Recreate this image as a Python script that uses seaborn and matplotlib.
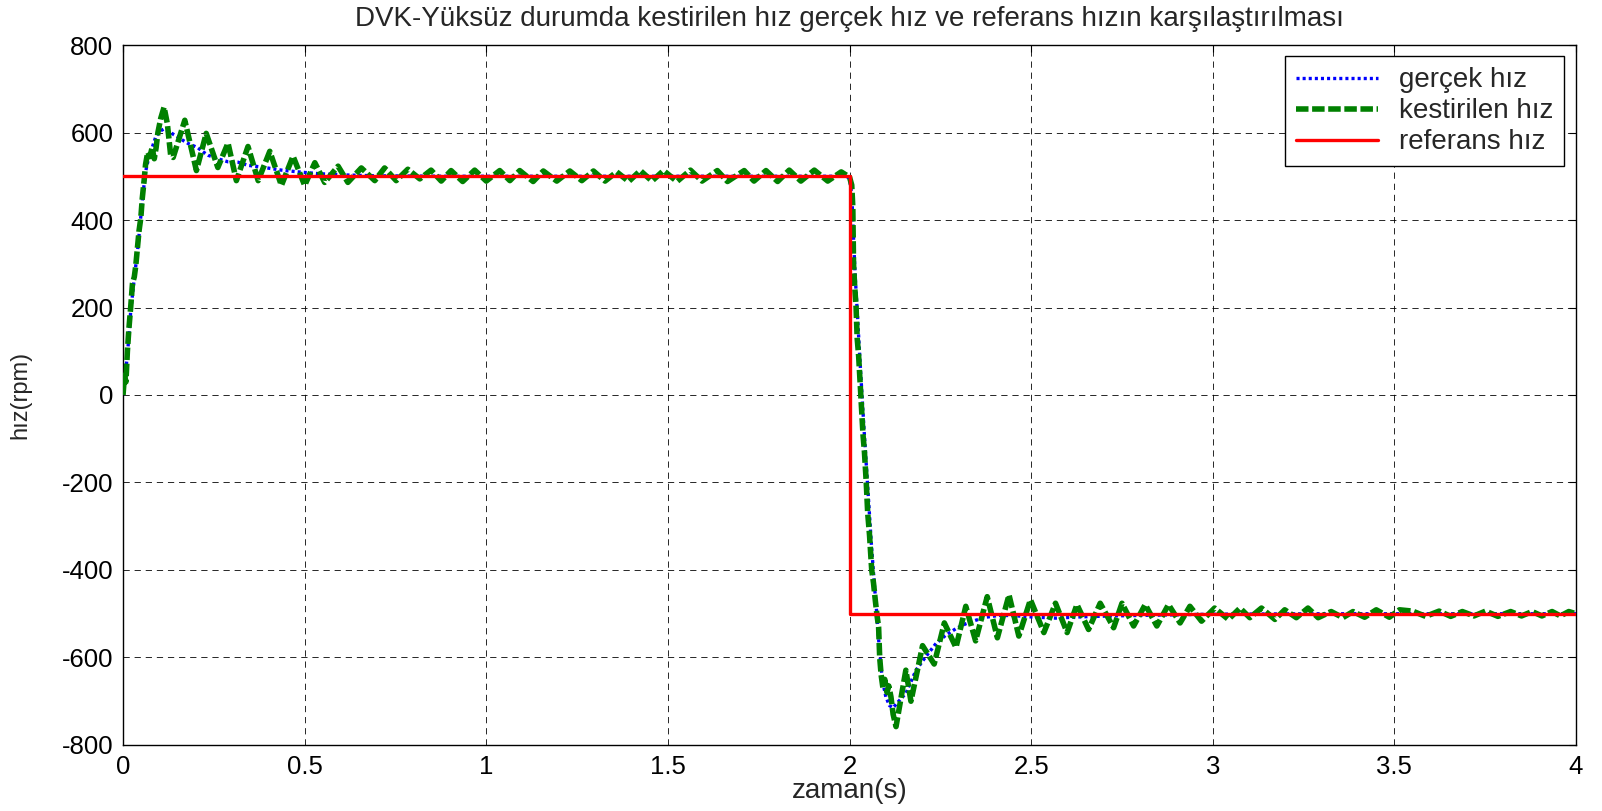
import matplotlib
matplotlib.use("Agg")
import matplotlib.pyplot as plt
import pandas as pd
import seaborn as sns

# ---------------------------------------------------------------- data
# reference speed (rpm): step from +500 to -500 at t = 2 s
t_ref = [0.0, 2.0, 2.0, 4.0]
w_ref = [500, 500, -500, -500]

# measured (actual) rotor speed
t_act = [0.000, 0.005, 0.012, 0.021, 0.030, 0.040, 0.048, 0.055, 0.062, 0.070,
         0.080, 0.090, 0.100, 0.112, 0.124, 0.140, 0.151, 0.165, 0.179, 0.193,
         0.206, 0.220, 0.234, 0.261, 0.289, 0.317, 0.344, 0.381, 0.436, 0.482,
         0.537, 0.610, 0.700, 0.900, 1.200, 1.600, 1.990,
         2.000, 2.006, 2.010, 2.015, 2.022, 2.030, 2.040, 2.050, 2.060, 2.068,
         2.075, 2.082, 2.090, 2.100, 2.110, 2.120, 2.130, 2.155, 2.183, 2.210,
         2.238, 2.265, 2.293, 2.320, 2.347, 2.375, 2.411, 2.448, 2.494, 2.567,
         2.640, 2.722, 2.859, 3.000, 3.300, 4.000]
w_act = [0, 40, 90, 190, 260, 330, 400, 460, 510, 540,
         565, 590, 602, 608, 604, 595, 590, 582, 575, 570,
         565, 556, 548, 540, 533, 532, 525, 521, 514, 510,
         506, 503, 501, 500, 500, 500, 500,
         495, 460, 380, 280, 180, 60, -80, -210, -340, -430,
         -500, -580, -650, -690, -710, -715, -705, -682, -629, -598,
         -568, -549, -534, -523, -515, -508, -504, -504, -507, -510,
         -507, -505, -503, -501, -500, -500]

# estimated speed (observer output)
t_est = [0.000, 0.004, 0.008, 0.012, 0.016, 0.021, 0.026, 0.031, 0.035, 0.039,
         0.044, 0.049, 0.053, 0.058, 0.062, 0.068, 0.074, 0.080, 0.086, 0.091,
         0.096, 0.104, 0.113, 0.122, 0.131, 0.138, 0.170, 0.202, 0.229, 0.261,
         0.289, 0.312, 0.344, 0.372, 0.404, 0.436, 0.468, 0.500, 0.528, 0.555,
         0.592, 0.619, 0.656, 0.693, 0.720, 0.752, 0.784, 0.817, 0.848, 0.876,
         0.903, 0.935, 0.968, 1.000, 1.037, 1.065, 1.092, 1.129, 1.157, 1.194,
         1.230, 1.263, 1.295, 1.327, 1.359, 1.392, 1.424, 1.456, 1.488, 1.525,
         1.562, 1.594, 1.636, 1.664, 1.710, 1.737, 1.770, 1.802, 1.834, 1.866,
         1.903, 1.940, 1.977,
         2.000, 2.006, 2.009, 2.011, 2.014, 2.018, 2.021, 2.025, 2.028, 2.031,
         2.034, 2.037, 2.041, 2.046, 2.050, 2.055, 2.058, 2.061, 2.066, 2.071,
         2.076, 2.080, 2.083, 2.087, 2.092, 2.097, 2.103, 2.108, 2.114, 2.120,
         2.128, 2.136, 2.155, 2.169, 2.201, 2.233, 2.261, 2.293, 2.320, 2.347,
         2.379, 2.407, 2.439, 2.466, 2.498, 2.535, 2.567, 2.599, 2.626, 2.658,
         2.690, 2.727, 2.750, 2.782, 2.814, 2.846, 2.878, 2.910, 2.937, 2.969,
         3.005, 3.043, 3.075, 3.102, 3.134, 3.171, 3.198, 3.230, 3.262, 3.290,
         3.326, 3.358, 3.386, 3.418, 3.450, 3.486, 3.514, 3.550, 3.586, 3.623,
         3.655, 3.687, 3.719, 3.751, 3.785, 3.820, 3.850, 3.879, 3.906, 3.934,
         3.957, 3.980, 4.000]
w_est = [0, 45, 30, 100, 150, 200, 255, 270, 295, 330,
         375, 405, 450, 490, 527, 555, 545, 565, 540, 565,
         600, 633, 658, 620, 549, 543, 628, 513, 598, 520,
         576, 490, 568, 490, 557, 479, 546, 479, 531, 486,
         523, 486, 519, 490, 519, 490, 516, 494, 514, 489,
         513, 488, 514, 489, 513, 490, 513, 488, 512, 489,
         512, 490, 512, 489, 510, 488, 513, 489, 513, 488,
         514, 489, 513, 488, 513, 489, 513, 488, 514, 489,
         514, 489, 510,
         498, 480, 430, 300, 250, 200, 130, 90, 45, 0,
         -45, -90, -130, -200, -270, -320, -360, -400, -430, -470,
         -506, -530, -600, -640, -670, -650, -680, -665, -690, -730,
         -758, -720, -629, -700, -573, -615, -521, -577, -483, -562,
         -461, -555, -457, -551, -468, -543, -476, -543, -479, -536,
         -476, -532, -476, -528, -479, -528, -479, -521, -483, -517,
         -487, -513, -487, -509, -487, -513, -491, -509, -487, -509,
         -495, -509, -495, -508, -491, -508, -491, -494, -506, -494,
         -506, -495, -505, -494, -506, -495, -505, -495, -505, -495,
         -505, -495, -500]

x_ticks = [0, 0.5, 1, 1.5, 2, 2.5, 3, 3.5, 4]
x_tick_labels = ["0", "0.5", "1", "1.5", "2", "2.5", "3", "3.5", "4"]
y_ticks = [-800, -600, -400, -200, 0, 200, 400, 600, 800]
y_tick_labels = ["-800", "-600", "-400", "-200", "0", "200", "400", "600", "800"]

series_names = ["gerçek hız", "kestirilen hız", "referans hız"]

# ---------------------------------------------------------------- style
sns.set_style("white")
plt.rcParams["font.family"] = ["Liberation Sans", "DejaVu Sans"]
plt.rcParams["lines.scale_dashes"] = False

fig = plt.figure(figsize=(16.02, 8.11), dpi=100)
ax = fig.add_axes([0.0768, 0.0814, 0.9070, 0.8631])

df_act = pd.DataFrame({"t": t_act, "w": w_act})
df_est = pd.DataFrame({"t": t_est, "w": w_est})
df_ref = pd.DataFrame({"t": t_ref, "w": w_ref})

sns.lineplot(data=df_act, x="t", y="w", ax=ax, estimator=None, sort=False,
             color="#0000ff", linewidth=2.4, zorder=3)
line_act = ax.lines[-1]
line_act.set_linestyle((0, (2.2, 2.2)))

sns.lineplot(data=df_est, x="t", y="w", ax=ax, estimator=None, sort=False,
             color="#008000", linewidth=4.0, zorder=4)
line_est = ax.lines[-1]
line_est.set_linestyle((0, (9.0, 2.6)))

sns.lineplot(data=df_ref, x="t", y="w", ax=ax, estimator=None, sort=False,
             color="#ff0000", linewidth=2.4, zorder=5)
line_ref = ax.lines[-1]
line_ref.set_linestyle("-")

ax.set_xlim(0, 4)
ax.set_ylim(-800, 800)
ax.set_xticks(x_ticks)
ax.set_xticklabels(x_tick_labels)
ax.set_yticks(y_ticks)
ax.set_yticklabels(y_tick_labels)

ax.grid(True, color="black", linestyle=(0, (4.5, 3.5)), linewidth=0.7, alpha=0.85)
ax.set_axisbelow(True)

for sp in ax.spines.values():
    sp.set_visible(True)
    sp.set_color("black")
    sp.set_linewidth(1.0)

ax.tick_params(axis="both", direction="in", length=5, width=0.8,
               top=True, right=True, labelsize=18.5, colors="black", pad=7)

ax.set_title("DVK-Yüksüz durumda kestirilen hız gerçek hız ve referans hızın karşılaştırılması",
             fontsize=20, pad=14)
ax.set_xlabel("zaman(s)", fontsize=20)
ax.set_ylabel("hız(rpm)", fontsize=17)
ax.xaxis.set_label_coords(0.5, -0.047)
ax.yaxis.set_label_coords(-0.0633, 0.5)

leg = ax.legend(handles=[line_act, line_est, line_ref], labels=series_names,
                loc="upper right", bbox_to_anchor=(0.9917, 0.984), borderaxespad=0,
                frameon=True, fancybox=False, framealpha=1, edgecolor="black",
                fontsize=20, handlelength=2.95, handletextpad=0.75,
                labelspacing=0.18, borderpad=0.4)
leg.get_frame().set_linewidth(1.0)

fig.savefig("out.png", dpi=100)
